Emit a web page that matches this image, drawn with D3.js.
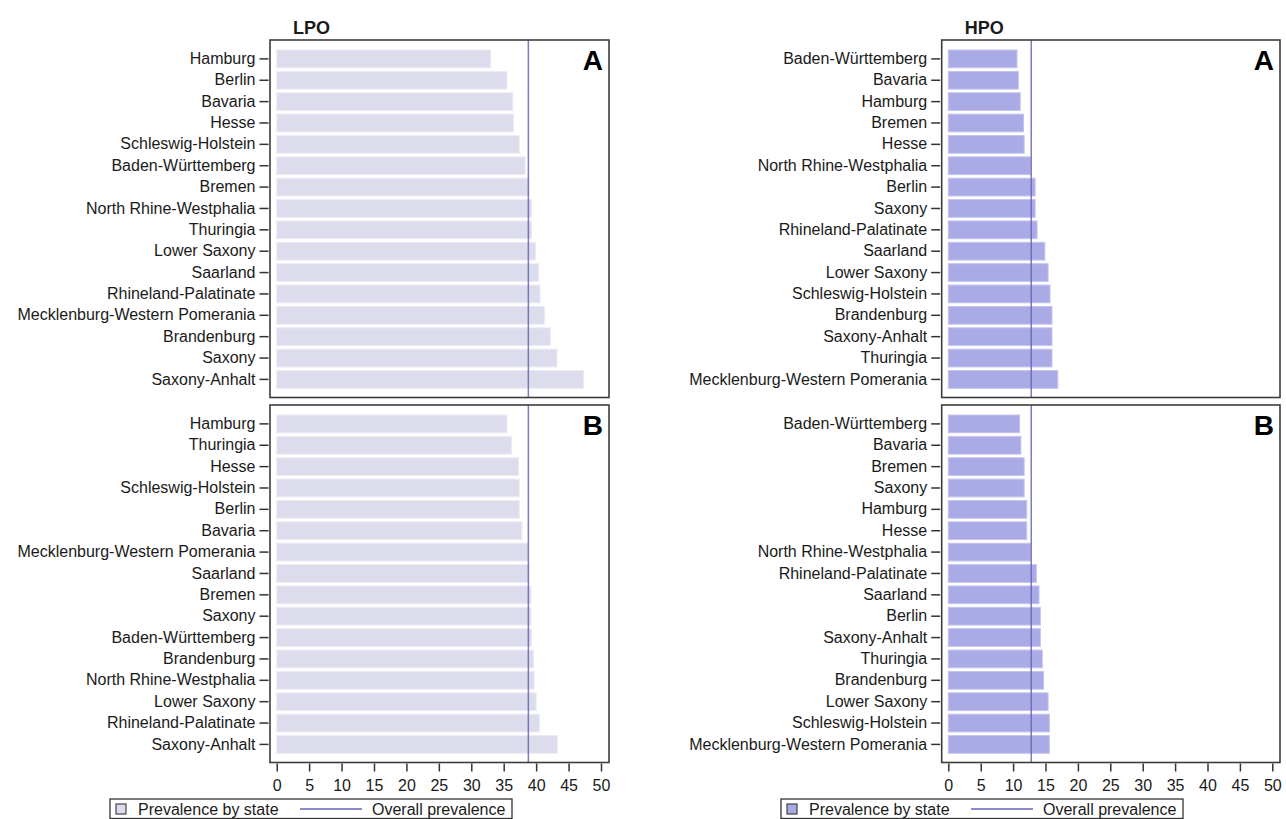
<!DOCTYPE html>
<html>
<head>
<meta charset="utf-8">
<script src="https://cdn.jsdelivr.net/npm/d3@7/dist/d3.min.js"></script>
<style>
  body { margin: 0; background: #fff; }
  text { font-family: "Liberation Sans", Arial, sans-serif; fill: #1a1a1a; }
</style>
</head>
<body>
<div id="chart"></div>
<script>
    // LPO, panel A and B (state order as shown, top to bottom)
    var lpoStatesA = ['Hamburg', 'Berlin', 'Bavaria', 'Hesse', 'Schleswig-Holstein', 'Baden-Württemberg', 'Bremen',
      'North Rhine-Westphalia', 'Thuringia', 'Lower Saxony', 'Saarland', 'Rhineland-Palatinate',
      'Mecklenburg-Western Pomerania', 'Brandenburg', 'Saxony', 'Saxony-Anhalt'];
    var lpoValuesA = [33.0, 35.5, 36.4, 36.5, 37.4, 38.3, 38.9, 39.3, 39.3, 39.9, 40.4, 40.6, 41.3, 42.2, 43.2, 47.3];

    var lpoStatesB = ['Hamburg', 'Thuringia', 'Hesse', 'Schleswig-Holstein', 'Berlin', 'Bavaria',
      'Mecklenburg-Western Pomerania', 'Saarland', 'Bremen', 'Saxony', 'Baden-Württemberg', 'Brandenburg',
      'North Rhine-Westphalia', 'Lower Saxony', 'Rhineland-Palatinate', 'Saxony-Anhalt'];
    var lpoValuesB = [35.5, 36.2, 37.3, 37.4, 37.4, 37.8, 38.8, 38.9, 39.2, 39.2, 39.3, 39.6, 39.7, 40.0, 40.5, 43.3];

    // HPO, panel A and B
    var hpoStatesA = ['Baden-Württemberg', 'Bavaria', 'Hamburg', 'Bremen', 'Hesse', 'North Rhine-Westphalia', 'Berlin',
      'Saxony', 'Rhineland-Palatinate', 'Saarland', 'Lower Saxony', 'Schleswig-Holstein', 'Brandenburg',
      'Saxony-Anhalt', 'Thuringia', 'Mecklenburg-Western Pomerania'];
    var hpoValuesA = [10.6, 10.8, 11.1, 11.6, 11.7, 12.7, 13.4, 13.4, 13.7, 14.9, 15.4, 15.7, 16.0, 16.0, 16.0, 16.9];

    var hpoStatesB = ['Baden-Württemberg', 'Bavaria', 'Bremen', 'Saxony', 'Hamburg', 'Hesse', 'North Rhine-Westphalia',
      'Rhineland-Palatinate', 'Saarland', 'Berlin', 'Saxony-Anhalt', 'Thuringia', 'Brandenburg', 'Lower Saxony',
      'Schleswig-Holstein', 'Mecklenburg-Western Pomerania'];
    var hpoValuesB = [11.0, 11.2, 11.7, 11.7, 12.1, 12.1, 12.7, 13.6, 14.0, 14.2, 14.2, 14.5, 14.7, 15.4, 15.6, 15.6];

    var overallLPO = 38.8;   //overall prevalence line
    var overallHPO = 12.8;

    var xTicks = [0, 5, 10, 15, 20, 25, 30, 35, 40, 45, 50];
    var panelLetters = ['A', 'B'];
    var legendLabels = ['Prevalence by state', 'Overall prevalence'];

    var width = 1286,
    height = 819;

    var columns = [
      {title: 'LPO', frame: [270, 609], range: [276.7, 601], fill: '#dcdcec', edge: '#ebebf5', legendX: 110,
        overall: overallLPO, panels: [[lpoStatesA, lpoValuesA], [lpoStatesB, lpoValuesB]]},
      {title: 'HPO', frame: [941.7, 1280], range: [948.3, 1272.3], fill: '#aaaae6', edge: '#c4c4ee', legendX: 781,
        overall: overallHPO, panels: [[hpoStatesA, hpoValuesA], [hpoStatesB, hpoValuesB]]}
    ];
    var rows = [[40, 397.5], [405, 762.5]];
    var lineColor = '#6464b4';

    var svg = d3.select('#chart').append('svg')
      .attr('width', width)
      .attr('height', height);

    columns.forEach(function(col) {

      var x = d3.scaleLinear()
        .domain([0, 50])
        .range(col.range);

      svg.append('text')
        .attr('x', col.frame[0] + 23)
        .attr('y', 34)
        .attr('font-size', '18px')
        .attr('font-weight', 'bold')
        .text(col.title);

      col.panels.forEach(function(p, r) {
        var states = p[0], values = p[1];
        var top = rows[r][0], bottom = rows[r][1];

        var y = d3.scaleBand()
          .domain(states)
          .range([top + 8.2, bottom - 7.4])
          .paddingInner(0.17)
          .paddingOuter(0.085);

        var g = svg.append('g');

        g.selectAll('.bar')
          .data(states)
          .enter().append('rect')
          .attr('class', 'bar')
          .attr('x', x(0))
          .attr('y', function(d) { return y(d); })
          .attr('width', function(d, i) { return x(values[i]) - x(0); })
          .attr('height', y.bandwidth())
          .style('fill', col.fill)
          .style('stroke', col.edge)
          .style('stroke-width', 1);

        g.append('line')
          .attr('x1', x(col.overall))
          .attr('x2', x(col.overall))
          .attr('y1', top)
          .attr('y2', bottom)
          .style('stroke', lineColor)
          .style('stroke-opacity', 0.85)
          .style('stroke-width', 1.5);

        g.append('rect')
          .attr('x', col.frame[0])
          .attr('y', top)
          .attr('width', col.frame[1] - col.frame[0])
          .attr('height', bottom - top)
          .style('fill', 'none')
          .style('stroke', '#3c3c3c')
          .style('stroke-width', 1.6);

        g.append('text')
          .attr('x', col.frame[1] - 6)
          .attr('y', top + 30)
          .attr('text-anchor', 'end')
          .attr('font-size', '28px')
          .attr('font-weight', 'bold')
          .style('fill', '#000')
          .text(panelLetters[r]);

        var yAxis = g.append('g')
          .attr('transform', 'translate(' + (col.frame[0] - 1.5) + ',0)')
          .call(d3.axisLeft(y).tickSize(9).tickPadding(4));
        yAxis.select('.domain').remove();
        yAxis.selectAll('line').style('stroke', '#333').style('stroke-width', 1.5);
        yAxis.selectAll('text')
          .attr('font-size', '16px')
          .style('font-family', '"Liberation Sans", Arial, sans-serif')
          .style('fill', '#1a1a1a');

        if (r === 1) {
          var xAxis = g.append('g')
            .attr('transform', 'translate(0,' + (bottom + 1) + ')')
            .call(d3.axisBottom(x).tickValues(xTicks).tickSize(8).tickPadding(8));
          xAxis.select('.domain').remove();
          xAxis.selectAll('line').style('stroke', '#333').style('stroke-width', 1.5);
          xAxis.selectAll('text')
            .attr('font-size', '16px')
            .style('font-family', '"Liberation Sans", Arial, sans-serif')
            .style('fill', '#1a1a1a');
        }
      });

      // legend
      var lg = svg.append('g')
        .attr('transform', 'translate(' + col.legendX + ',799)');

      lg.append('rect')
        .attr('width', 402)
        .attr('height', 19.5)
        .style('fill', '#fff')
        .style('stroke', '#333')
        .style('stroke-width', 1.3);

      lg.append('rect')
        .attr('x', 6)
        .attr('y', 5)
        .attr('width', 10)
        .attr('height', 10)
        .style('fill', col.fill)
        .style('stroke', '#444')
        .style('stroke-width', 1.2);

      lg.append('text')
        .attr('x', 28)
        .attr('y', 16)
        .attr('font-size', '16px')
        .text(legendLabels[0]);

      lg.append('line')
        .attr('x1', 190)
        .attr('x2', 252)
        .attr('y1', 10)
        .attr('y2', 10)
        .style('stroke', lineColor)
        .style('stroke-width', 1.5);

      lg.append('text')
        .attr('x', 262)
        .attr('y', 16)
        .attr('font-size', '16px')
        .text(legendLabels[1]);
    });
</script>
</body>
</html>
